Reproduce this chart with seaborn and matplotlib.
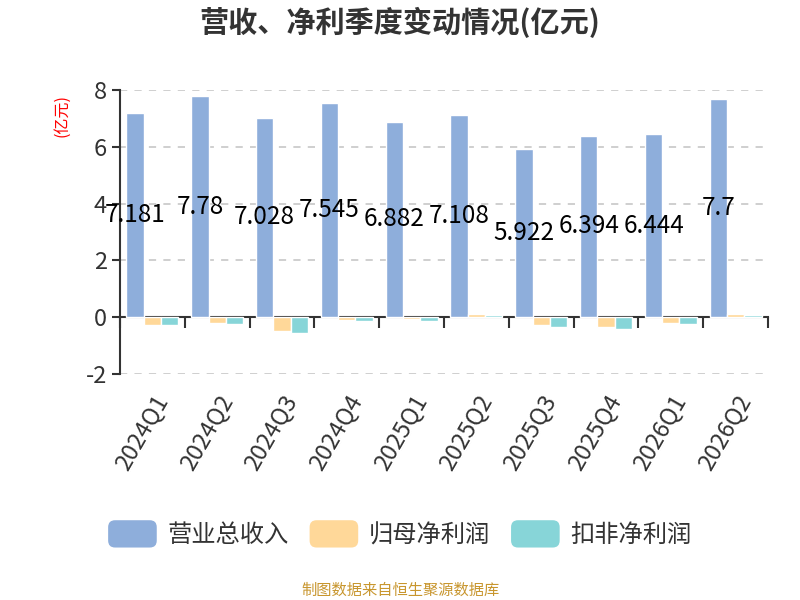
import matplotlib
matplotlib.use("Agg")
import matplotlib.pyplot as plt
import seaborn as sns
import pandas as pd
from matplotlib.patches import FancyBboxPatch, Patch
from matplotlib.legend_handler import HandlerPatch

quarters = ["2024Q1", "2024Q2", "2024Q3", "2024Q4", "2025Q1",
            "2025Q2", "2025Q3", "2025Q4", "2026Q1", "2026Q2"]
revenue = [7.181, 7.78, 7.028, 7.545, 6.882, 7.108, 5.922, 6.394, 6.444, 7.7]
net_profit = [-0.27, -0.19, -0.50, -0.10, -0.08, 0.10, -0.28, -0.36, -0.20, 0.11]
deducted_profit = [-0.29, -0.23, -0.55, -0.15, -0.15, 0.07, -0.36, -0.40, -0.23, 0.07]
series_names = ["营业总收入", "归母净利润", "扣非净利润"]
colors = ["#8eaedb", "#ffd899", "#87d5d8"]

sns.set_style("white")
plt.rcParams["font.family"] = ["Noto Sans CJK SC", "DejaVu Sans"]
plt.rcParams["axes.unicode_minus"] = False

df = pd.DataFrame({
    "quarter": quarters * 3,
    "value": revenue + net_profit + deducted_profit,
    "series": [series_names[0]] * 10 + [series_names[1]] * 10 + [series_names[2]] * 10,
})

fig = plt.figure(figsize=(8, 6), dpi=100)
ax = fig.add_axes([0.15, 0.3767, 0.81, 0.4733])

sns.barplot(data=df, x="quarter", y="value", hue="series", hue_order=series_names,
            palette=colors, width=0.8, saturation=1, ax=ax, legend=False, zorder=3)

ax.bar_label(ax.containers[0], labels=[f"{v:g}" for v in revenue],
             label_type="center", fontsize=17.5, color="black", zorder=5)

ax.set_ylim(-2, 8)
ax.set_xlim(-0.5, len(quarters) - 0.5)
ax.set_yticks([-2, 0, 2, 4, 6, 8])
ax.set_xlabel("")
ax.set_ylabel("")

ax.yaxis.grid(True, linestyle=(0, (4, 4)), color="#cccccc", linewidth=1.3, zorder=0)
ax.set_axisbelow(True)

for s in ["top", "right"]:
    ax.spines[s].set_visible(False)
ax.spines["left"].set_color("#333333")
ax.spines["left"].set_linewidth(1.5)
ax.spines["bottom"].set_position(("data", 0))
ax.spines["bottom"].set_color("#333333")
ax.spines["bottom"].set_linewidth(1.5)
ax.spines["bottom"].set_zorder(2.5)

ax.tick_params(axis="y", left=True, direction="out", length=6, width=1.5, color="#333333",
               labelsize=17, labelcolor="#333333")
ax.set_xticks([i - 0.5 for i in range(len(quarters) + 1)], minor=True)
ax.tick_params(axis="x", which="minor", bottom=True, direction="out", length=8, width=1.5,
               color="#333333")
ax.tick_params(axis="x", which="major", length=0, labelbottom=False)

sec = ax.secondary_xaxis(0)
sec.set_xticks(range(len(quarters)))
sec.set_xticklabels(quarters, rotation=60, ha="right", rotation_mode="anchor")
sec.tick_params(length=0, labelsize=17, labelcolor="#333333", pad=12)
sec.spines["bottom"].set_visible(False)

ax.text(-0.09, 0.91, "(亿元)", transform=ax.transAxes, rotation=90, color="red",
        fontsize=11.5, ha="center", va="center")

fig.text(0.5, 0.963, "营收、净利季度变动情况(亿元)", ha="center", va="center",
         fontsize=21, fontweight="bold", color="#333333")


class RoundHandler(HandlerPatch):
    def create_artists(self, legend, orig_handle, xdescent, ydescent, width, height,
                       fontsize, trans):
        p = FancyBboxPatch((-xdescent, -ydescent - 2), width, height + 4,
                           boxstyle="round,pad=0,rounding_size=5",
                           facecolor=orig_handle.get_facecolor(), edgecolor="none",
                           transform=trans)
        return [p]


handles = [Patch(facecolor=c) for c in colors]
fig.legend(handles, series_names, loc="center", bbox_to_anchor=(0.5, 0.108), ncol=3,
           frameon=False, fontsize=17.5, handlelength=2.0, handleheight=1.0,
           handletextpad=0.45, columnspacing=0.85, labelcolor="#333333",
           handler_map={Patch: RoundHandler()})

fig.text(0.5, 0.017, "制图数据来自恒生聚源数据库", ha="center", va="center",
         fontsize=11, color="#c8962e")

fig.savefig("out.png", dpi=100)
